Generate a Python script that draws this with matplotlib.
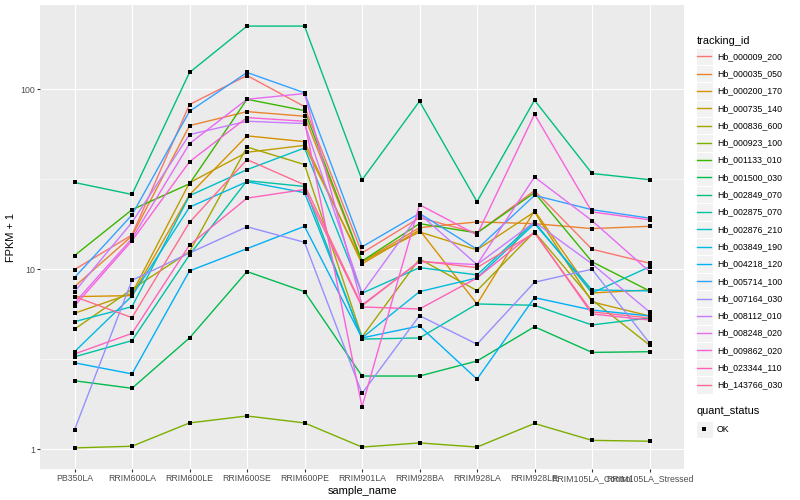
import numpy as np
import matplotlib
matplotlib.use("Agg")
import matplotlib.pyplot as plt
from matplotlib.patches import Rectangle
from matplotlib.ticker import FixedLocator, FixedFormatter, NullFormatter

plt.rcParams["font.family"] = ["Liberation Sans", "DejaVu Sans"]

samples = ["PB350LA", "RRIM600LA", "RRIM600LE", "RRIM600SE", "RRIM600PE",
           "RRIM901LA", "RRIM928BA", "RRIM928LA", "RRIM928LE",
           "RRIM105LA_Control", "RRIM105LA_Stressed"]

tracking_ids = ["Hb_000009_200", "Hb_000035_050", "Hb_000200_170", "Hb_000735_140",
                "Hb_000836_600", "Hb_000923_100", "Hb_001133_010", "Hb_001500_030",
                "Hb_002849_070", "Hb_002875_070", "Hb_002876_210", "Hb_003849_190",
                "Hb_004218_120", "Hb_005714_100", "Hb_007164_030", "Hb_008112_010",
                "Hb_008248_020", "Hb_009862_020", "Hb_023344_110", "Hb_143766_030"]

# ggplot hue palette, 20 levels
colors = ["#F8766D", "#EA8331", "#D89000", "#C09B00", "#A3A500", "#7CAE00",
          "#39B600", "#00BB4E", "#00BF7D", "#00C1A3", "#00BFC4", "#00BAE0",
          "#00B0F6", "#35A2FF", "#9590FF", "#C77CFF", "#E76BF3", "#FA62DB",
          "#FF62BC", "#FF6C91"]

# FPKM + 1, one value per sample
hb_000009_200 = [9.95, 15.5, 82.1, 119.0, 80.0, 12.3, 19.3, 15.9, 27.3, 12.9, 10.8]
hb_000035_050 = [8.0, 15.3, 62.7, 75.0, 70.7, 11.0, 17.0, 18.3, 17.9, 16.8, 17.3]
hb_000200_170 = [7.04, 7.13, 25.9, 55.0, 51.1, 10.7, 16.5, 6.41, 21.1, 7.38, 7.67]
hb_000735_140 = [5.69, 7.35, 30.2, 44.6, 48.7, 11.0, 16.1, 12.8, 20.8, 6.58, 5.50]
hb_000836_600 = [4.64, 7.74, 12.5, 47.7, 38.1, 4.20, 11.4, 7.60, 16.1, 6.75, 3.79]
hb_000923_100 = [1.017, 1.039, 1.40, 1.53, 1.40, 1.028, 1.084, 1.028, 1.39, 1.12, 1.108]
hb_001133_010 = [11.9, 21.4, 29.8, 87.8, 76.0, 11.1, 17.9, 15.9, 26.6, 11.0, 7.57]
hb_001500_030 = [2.40, 2.18, 4.15, 9.70, 7.50, 2.55, 2.55, 3.09, 4.79, 3.45, 3.48]
hb_002849_070 = [30.3, 26.0, 123.7, 223.9, 223.9, 31.3, 85.6, 23.7, 86.8, 34.0, 31.4]
hb_002875_070 = [3.26, 4.01, 12.0, 31.0, 28.8, 4.09, 4.15, 6.41, 6.30, 4.90, 5.36]
hb_002876_210 = [5.11, 6.19, 25.6, 35.7, 47.1, 7.35, 10.2, 9.30, 18.3, 7.38, 10.3]
hb_003849_190 = [3.48, 7.10, 22.1, 30.6, 26.6, 4.15, 7.50, 8.94, 17.9, 7.67, 7.57]
hb_004218_120 = [3.02, 2.62, 9.78, 13.0, 17.3, 4.15, 4.84, 2.45, 6.95, 5.93, 5.50]
hb_005714_100 = [8.98, 20.0, 75.3, 123.7, 95.4, 13.3, 20.4, 12.9, 25.7, 21.4, 19.2]
hb_007164_030 = [1.28, 8.68, 12.3, 17.2, 14.1, 2.04, 5.52, 3.83, 8.46, 10.0, 3.89]
hb_008112_010 = [7.50, 18.2, 55.9, 66.3, 64.4, 7.35, 20.3, 10.6, 18.3, 10.7, 5.79]
hb_008248_020 = [6.49, 14.8, 49.8, 87.8, 94.5, 6.33, 11.0, 10.6, 32.5, 18.6, 9.70]
hb_009862_020 = [6.25, 14.4, 39.5, 69.5, 66.3, 1.72, 22.8, 15.5, 72.5, 20.8, 18.8]
hb_023344_110 = [3.38, 4.40, 13.6, 24.8, 27.7, 6.17, 6.01, 8.94, 16.1, 5.64, 5.22]
hb_143766_030 = [7.04, 5.38, 18.2, 40.6, 29.4, 6.25, 11.1, 10.2, 15.9, 5.79, 5.36]

series = [hb_000009_200, hb_000035_050, hb_000200_170, hb_000735_140, hb_000836_600,
          hb_000923_100, hb_001133_010, hb_001500_030, hb_002849_070, hb_002875_070,
          hb_002876_210, hb_003849_190, hb_004218_120, hb_005714_100, hb_007164_030,
          hb_008112_010, hb_008248_020, hb_009862_020, hb_023344_110, hb_143766_030]

fig = plt.figure(figsize=(8, 5), dpi=100)
ax = fig.add_axes([40 / 800, 31 / 500, 644 / 800, 464 / 500])
ax.set_facecolor("#EBEBEB")
for s in ax.spines.values():
    s.set_visible(False)

x = np.arange(len(samples))
for vals, c in zip(series, colors):
    ax.plot(x, vals, color=c, lw=1.0, zorder=2)
for vals in series:
    ax.plot(x, vals, "s", color="black", ms=2.8, mew=0, zorder=3)

ax.set_yscale("log")
allv = np.log10(np.concatenate([np.asarray(v) for v in series]))
lo, hi = allv.min(), allv.max()
pad = (hi - lo) * 0.05
ax.set_ylim(10 ** (lo - pad), 10 ** (hi + pad))
ax.set_xlim(-0.6, len(samples) - 0.4)

ax.yaxis.set_major_locator(FixedLocator([1, 10, 100]))
ax.yaxis.set_major_formatter(FixedFormatter(["1", "10", "100"]))
ax.yaxis.set_minor_locator(FixedLocator([10 ** 0.5, 10 ** 1.5]))
ax.yaxis.set_minor_formatter(NullFormatter())
ax.set_xticks(x)
ax.set_xticklabels(samples)

ax.grid(which="major", color="white", lw=0.8, zorder=0)
ax.grid(which="minor", axis="y", color="white", lw=0.4, zorder=0)
ax.set_axisbelow(True)
ax.tick_params(which="major", length=2, width=0.8, color="#333333",
               labelsize=6.3, labelcolor="#4D4D4D", pad=1.6)
ax.tick_params(which="minor", length=0)

ax.set_xlabel("sample_name", fontsize=7.9, labelpad=2)
ax.set_ylabel("FPKM + 1", fontsize=7.9, labelpad=3)

# legend drawn in pixel coordinates
lg = fig.add_axes([0, 0, 1, 1], zorder=5)
lg.set_xlim(0, 800)
lg.set_ylim(500, 0)
lg.axis("off")
lg.patch.set_alpha(0)

kx, ky, ks = 695.5, 47.7, 17.3
lg.text(kx + 1, ky - 7, "tracking_id", fontsize=7.9, va="center", ha="left")
for i, (tid, c) in enumerate(zip(tracking_ids, colors)):
    y0 = ky + i * ks
    lg.add_patch(Rectangle((kx, y0), ks, ks, facecolor="#F2F2F2", edgecolor="white", lw=0.8))
    lg.plot([kx + 1.7, kx + ks - 1.7], [y0 + ks / 2] * 2, color=c, lw=1.0)
    lg.text(kx + ks + 4, y0 + ks / 2, tid, fontsize=6.3, va="center", ha="left")

qy = 420.5
lg.text(kx + 1, qy - 9, "quant_status", fontsize=7.9, va="center", ha="left")
lg.add_patch(Rectangle((kx, qy), ks, ks, facecolor="#F2F2F2", edgecolor="white", lw=0.8))
lg.plot([kx + ks / 2], [qy + ks / 2], "s", color="black", ms=2.8, mew=0)
lg.text(kx + ks + 4, qy + ks / 2, "OK", fontsize=6.3, va="center", ha="left")

fig.savefig("out.png", dpi=100)
